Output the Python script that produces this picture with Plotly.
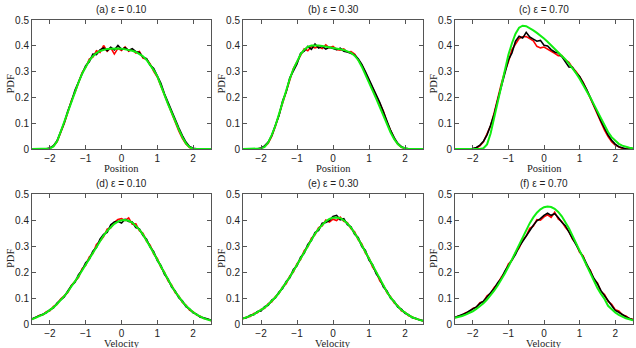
# PDF comparison panels: position / velocity for three epsilon values
# black and red are sampled histograms, green is the analytic curve

import plotly.graph_objects as go

x = [-2.5, -2.4, -2.3, -2.2, -2.1, -2.0, -1.9, -1.8, -1.7, -1.6,
     -1.5, -1.4, -1.3, -1.2, -1.1, -1.0, -0.9, -0.8, -0.7, -0.6,
     -0.5, -0.4, -0.3, -0.2, -0.1, 0.0, 0.1, 0.2, 0.3, 0.4,
     0.5, 0.6, 0.7, 0.8, 0.9, 1.0, 1.1, 1.2, 1.3, 1.4,
     1.5, 1.6, 1.7, 1.8, 1.9, 2.0, 2.1, 2.2, 2.3, 2.4, 2.5]

titles = ["(a) ε = 0.10", "(b) ε = 0.30", "(c) ε = 0.70",
          "(d) ε = 0.10", "(e) ε = 0.30", "(f) ε = 0.70"]
xlabels = ["Position", "Position", "Position", "Velocity", "Velocity", "Velocity"]

# ---- (a) position, eps 0.10
green_a = [0, 0, 0, 0, 0,
           0.002, 0.01, 0.03, 0.066, 0.105,
           0.145, 0.185, 0.222, 0.258, 0.292,
           0.32, 0.343, 0.36, 0.372, 0.38,
           0.385, 0.388, 0.389, 0.39, 0.39,
           0.389, 0.387, 0.385, 0.381, 0.376,
           0.369, 0.359, 0.345, 0.327, 0.306,
           0.282, 0.249, 0.21, 0.174, 0.14,
           0.108, 0.076, 0.046, 0.022, 0.007,
           0.001, 0, 0, 0, 0, 0]
black_a = [0, 0, 0, 0, 0.001,
           0.004, 0.013, 0.032, 0.064, 0.102,
           0.147, 0.183, 0.228, 0.262, 0.29,
           0.323, 0.338, 0.368, 0.366, 0.384,
           0.392, 0.381, 0.394, 0.384, 0.401,
           0.386, 0.393, 0.382, 0.389, 0.377,
           0.374, 0.356, 0.35, 0.325, 0.312,
           0.284, 0.255, 0.214, 0.18, 0.147,
           0.114, 0.082, 0.052, 0.027, 0.01,
           0.003, 0.001, 0, 0, 0, 0]
red_a = [0, 0, 0, 0, 0,
         0.003, 0.011, 0.028, 0.061, 0.099,
         0.141, 0.188, 0.219, 0.262, 0.296,
         0.316, 0.349, 0.356, 0.381, 0.374,
         0.401, 0.379, 0.392, 0.368, 0.39,
         0.382, 0.396, 0.379, 0.386, 0.372,
         0.378, 0.352, 0.348, 0.33, 0.301,
         0.279, 0.244, 0.207, 0.168, 0.134,
         0.1, 0.07, 0.041, 0.019, 0.006,
         0.001, 0, 0, 0, 0, 0]

# ---- (b) position, eps 0.30
green_b = [0, 0, 0, 0, 0,
           0.002, 0.008, 0.025, 0.055, 0.09,
           0.135, 0.183, 0.228, 0.272, 0.31,
           0.342, 0.367, 0.385, 0.396, 0.401,
           0.402, 0.401, 0.399, 0.397, 0.395,
           0.393, 0.39, 0.387, 0.384, 0.379,
           0.373, 0.362, 0.345, 0.319, 0.289,
           0.257, 0.226, 0.195, 0.162, 0.128,
           0.095, 0.064, 0.038, 0.019, 0.007,
           0.002, 0, 0, 0, 0, 0]
black_b = [0, 0, 0, 0, 0.001,
           0.004, 0.012, 0.027, 0.053, 0.092,
           0.13, 0.186, 0.222, 0.276, 0.301,
           0.33, 0.371, 0.379, 0.398, 0.386,
           0.407, 0.391, 0.398, 0.387, 0.394,
           0.389, 0.385, 0.391, 0.379, 0.376,
           0.372, 0.365, 0.35, 0.328, 0.3,
           0.27, 0.241, 0.21, 0.18, 0.144,
           0.106, 0.072, 0.044, 0.022, 0.009,
           0.003, 0.001, 0, 0, 0, 0]
red_b = [0, 0, 0, 0, 0,
         0.003, 0.009, 0.022, 0.05, 0.088,
         0.134, 0.18, 0.23, 0.268, 0.312,
         0.338, 0.361, 0.388, 0.381, 0.397,
         0.392, 0.396, 0.389, 0.404, 0.392,
         0.398, 0.386, 0.383, 0.388, 0.376,
         0.378, 0.368, 0.345, 0.326, 0.296,
         0.265, 0.238, 0.207, 0.176, 0.146,
         0.103, 0.068, 0.04, 0.019, 0.007,
         0.002, 0, 0, 0, 0, 0]

# ---- (c) position, eps 0.70
green_c = [0, 0, 0, 0, 0, 0, 0, 0,
           0.003, 0.018, 0.06, 0.12, 0.185,
           0.25, 0.31, 0.365, 0.41, 0.447,
           0.47, 0.478, 0.476, 0.469, 0.46,
           0.45, 0.44, 0.428, 0.416, 0.403,
           0.39, 0.376, 0.362, 0.347, 0.331,
           0.313, 0.294, 0.272, 0.249, 0.225,
           0.2, 0.173, 0.145, 0.117, 0.09,
           0.066, 0.046, 0.031, 0.02, 0.013,
           0.008, 0.005, 0.003]
black_c = [0, 0, 0, 0, 0, 0.002,
           0.006, 0.015, 0.03, 0.055, 0.092,
           0.135, 0.19, 0.245, 0.298, 0.345,
           0.372, 0.418, 0.437, 0.43, 0.452,
           0.434, 0.426, 0.418, 0.421, 0.402,
           0.399, 0.385, 0.376, 0.372, 0.358,
           0.339, 0.318, 0.317, 0.295, 0.281,
           0.257, 0.23, 0.2, 0.172, 0.14,
           0.108, 0.08, 0.054, 0.034, 0.019,
           0.009, 0.004, 0.001, 0, 0]
red_c = [0, 0, 0, 0, 0, 0.001,
         0.004, 0.012, 0.028, 0.056, 0.09,
         0.14, 0.2, 0.252, 0.3, 0.338,
         0.385, 0.405, 0.428, 0.435, 0.436,
         0.428, 0.419, 0.398, 0.392, 0.395,
         0.388, 0.38, 0.371, 0.362, 0.362,
         0.345, 0.336, 0.315, 0.3, 0.28,
         0.258, 0.228, 0.196, 0.165, 0.132,
         0.102, 0.073, 0.048, 0.028, 0.015,
         0.007, 0.002, 0.001, 0, 0]

# ---- (d) velocity, eps 0.10
green_d = [0.018, 0.023, 0.029, 0.036, 0.044,
           0.053, 0.064, 0.077, 0.091, 0.107,
           0.124, 0.143, 0.163, 0.184, 0.206,
           0.229, 0.252, 0.275, 0.298, 0.32,
           0.34, 0.358, 0.373, 0.385, 0.394,
           0.399, 0.4, 0.397, 0.39, 0.378,
           0.363, 0.344, 0.322, 0.298, 0.273,
           0.247, 0.221, 0.195, 0.17, 0.146,
           0.124, 0.104, 0.086, 0.07, 0.056,
           0.045, 0.036, 0.028, 0.022, 0.017, 0.013]
black_d = [0.02, 0.026, 0.03, 0.038, 0.043,
           0.055, 0.062, 0.081, 0.094, 0.104,
           0.127, 0.147, 0.16, 0.19, 0.207,
           0.236, 0.249, 0.28, 0.294, 0.326,
           0.345, 0.352, 0.382, 0.392, 0.395,
           0.388, 0.403, 0.394, 0.392, 0.371,
           0.366, 0.34, 0.326, 0.296, 0.278,
           0.244, 0.225, 0.191, 0.173, 0.142,
           0.127, 0.101, 0.089, 0.067, 0.058,
           0.043, 0.038, 0.026, 0.024, 0.018, 0.015]
red_d = [0.019, 0.024, 0.033, 0.035, 0.047,
         0.051, 0.068, 0.075, 0.096, 0.11,
         0.121, 0.148, 0.166, 0.18, 0.213,
         0.226, 0.258, 0.271, 0.306, 0.318,
         0.336, 0.365, 0.37, 0.391, 0.402,
         0.405, 0.398, 0.408, 0.384, 0.385,
         0.359, 0.349, 0.318, 0.303, 0.269,
         0.252, 0.218, 0.199, 0.166, 0.15,
         0.12, 0.108, 0.083, 0.073, 0.053,
         0.047, 0.034, 0.03, 0.021, 0.019, 0.012]

# ---- (e) velocity, eps 0.30
green_e = [0.021, 0.025, 0.031, 0.037, 0.045,
           0.053, 0.063, 0.075, 0.088, 0.103,
           0.12, 0.139, 0.159, 0.181, 0.204,
           0.228, 0.252, 0.277, 0.301, 0.325,
           0.347, 0.366, 0.382, 0.395, 0.404,
           0.409, 0.41, 0.407, 0.399, 0.387,
           0.371, 0.351, 0.328, 0.303, 0.277,
           0.25, 0.223, 0.196, 0.17, 0.146,
           0.123, 0.102, 0.084, 0.068, 0.054,
           0.043, 0.034, 0.026, 0.02, 0.016, 0.012]
black_e = [0.022, 0.024, 0.034, 0.036, 0.048,
           0.05, 0.067, 0.072, 0.092, 0.1,
           0.123, 0.136, 0.164, 0.178, 0.21,
           0.224, 0.257, 0.272, 0.306, 0.321,
           0.352, 0.36, 0.388, 0.39, 0.398,
           0.414, 0.418, 0.401, 0.405, 0.382,
           0.374, 0.345, 0.333, 0.298, 0.283,
           0.246, 0.228, 0.193, 0.175, 0.142,
           0.127, 0.099, 0.087, 0.065, 0.057,
           0.041, 0.036, 0.024, 0.022, 0.015, 0.013]
red_e = [0.02, 0.027, 0.029, 0.04, 0.043,
         0.056, 0.06, 0.078, 0.085, 0.106,
         0.117, 0.143, 0.155, 0.185, 0.2,
         0.232, 0.248, 0.282, 0.297, 0.33,
         0.343, 0.371, 0.377, 0.4, 0.392,
         0.403, 0.398, 0.411, 0.395, 0.39,
         0.366, 0.355, 0.324, 0.308, 0.273,
         0.254, 0.219, 0.2, 0.166, 0.149,
         0.12, 0.105, 0.081, 0.071, 0.051,
         0.045, 0.032, 0.028, 0.019, 0.017, 0.011]

# ---- (f) velocity, eps 0.70
green_f = [0.024, 0.027, 0.031, 0.036, 0.042,
           0.049, 0.058, 0.068, 0.08, 0.094,
           0.11, 0.128, 0.148, 0.17, 0.194,
           0.22, 0.248, 0.276, 0.305, 0.334,
           0.362, 0.388, 0.41, 0.428, 0.441,
           0.449, 0.452, 0.45, 0.443, 0.431,
           0.414, 0.393, 0.368, 0.34, 0.311,
           0.28, 0.249, 0.219, 0.19, 0.163,
           0.138, 0.116, 0.096, 0.07, 0.056,
           0.044, 0.035, 0.028, 0.022, 0.018, 0.014]
black_f = [0.026, 0.03, 0.036, 0.041, 0.05,
           0.058, 0.066, 0.079, 0.088, 0.104,
           0.122, 0.136, 0.159, 0.175, 0.203,
           0.226, 0.25, 0.268, 0.297, 0.318,
           0.343, 0.362, 0.38, 0.397, 0.405,
           0.418, 0.426, 0.418, 0.424, 0.41,
           0.391, 0.378, 0.352, 0.331, 0.305,
           0.28, 0.258, 0.228, 0.203, 0.176,
           0.155, 0.128, 0.11, 0.09, 0.073,
           0.052, 0.045, 0.035, 0.028, 0.021, 0.016]
red_f = [0.024, 0.031, 0.034, 0.043, 0.047,
         0.06, 0.064, 0.082, 0.086, 0.108,
         0.118, 0.14, 0.155, 0.18, 0.198,
         0.231, 0.245, 0.274, 0.292, 0.322,
         0.338, 0.368, 0.376, 0.401, 0.399,
         0.412, 0.42, 0.41, 0.43, 0.404,
         0.394, 0.372, 0.356, 0.327, 0.31,
         0.276, 0.262, 0.224, 0.207, 0.172,
         0.158, 0.125, 0.113, 0.087, 0.076,
         0.055, 0.05, 0.035, 0.031, 0.021, 0.018]

panels = [(red_a, black_a, green_a), (red_b, black_b, green_b), (red_c, black_c, green_c),
          (red_d, black_d, green_d), (red_e, black_e, green_e), (red_f, black_f, green_f)]

# plot-area boxes in pixels (left, right, top, bottom) of a 636x348 canvas
W, H = 636, 348
cols_px = [(32, 211), (243, 423), (455, 633)]
rows_px = [(20, 149), (194, 324)]

fig = go.Figure()
axis_font = dict(family="Liberation Sans, Arial, sans-serif", size=10, color="#222")
label_font = dict(family="Liberation Serif, Times New Roman, serif", size=10.5, color="#222")

for i, (red, black, green) in enumerate(panels):
    r, c = divmod(i, 3)
    n = "" if i == 0 else str(i + 1)
    for ys, col, w in [(red, "#ff0000", 1.6), (black, "#000000", 1.6), (green, "#11ee11", 2.0)]:
        fig.add_trace(go.Scatter(x=x, y=ys, mode="lines", line=dict(color=col, width=w),
                                 xaxis="x" + n, yaxis="y" + n, showlegend=False, hoverinfo="skip"))
    l, rr = cols_px[c]
    t, b = rows_px[r]
    common = dict(showline=True, linecolor="#555", linewidth=1, mirror="ticks",
                  ticks="inside", ticklen=4, tickcolor="#555", showgrid=False,
                  zeroline=False, tickfont=axis_font, automargin=False)
    fig.layout["xaxis" + n] = dict(common, domain=[l / W, rr / W], range=[-2.5, 2.5],
                                   tickvals=[-2, -1, 0, 1, 2], anchor="y" + n)
    fig.layout["yaxis" + n] = dict(common, domain=[1 - b / H, 1 - t / H], range=[0, 0.5],
                                   tickvals=[0, 0.1, 0.2, 0.3, 0.4, 0.5], ticktext=["0", "0.1", "0.2", "0.3", "0.4", "0.5"],
                                   anchor="x" + n)
    # panel title, x label and y label as paper annotations for exact placement
    fig.add_annotation(text=titles[i], x=(l + rr) / 2 / W, y=1 - (t - 3) / H,
                       xref="paper", yref="paper", xanchor="center", yanchor="bottom",
                       showarrow=False, font=dict(family="Liberation Sans, Arial, sans-serif", size=10, color="#222"))
    fig.add_annotation(text=xlabels[i], x=(l + rr) / 2 / W, y=1 - (b + 19) / H,
                       xref="paper", yref="paper", xanchor="center", yanchor="middle",
                       showarrow=False, font=label_font)
    fig.add_annotation(text="PDF", x=(l - 22) / W, y=1 - (t + b) / 2 / H,
                       xref="paper", yref="paper", xanchor="center", yanchor="middle",
                       textangle=-90, showarrow=False, font=label_font)

fig.update_layout(width=W, height=H, margin=dict(l=0, r=0, t=0, b=0),
                  plot_bgcolor="white", paper_bgcolor="white")

# page body margin would otherwise shift the fixed-size figure by 8px
fig.write_html("out.html", config={"displayModeBar": False},
               post_script="document.body.style.margin='0';")
